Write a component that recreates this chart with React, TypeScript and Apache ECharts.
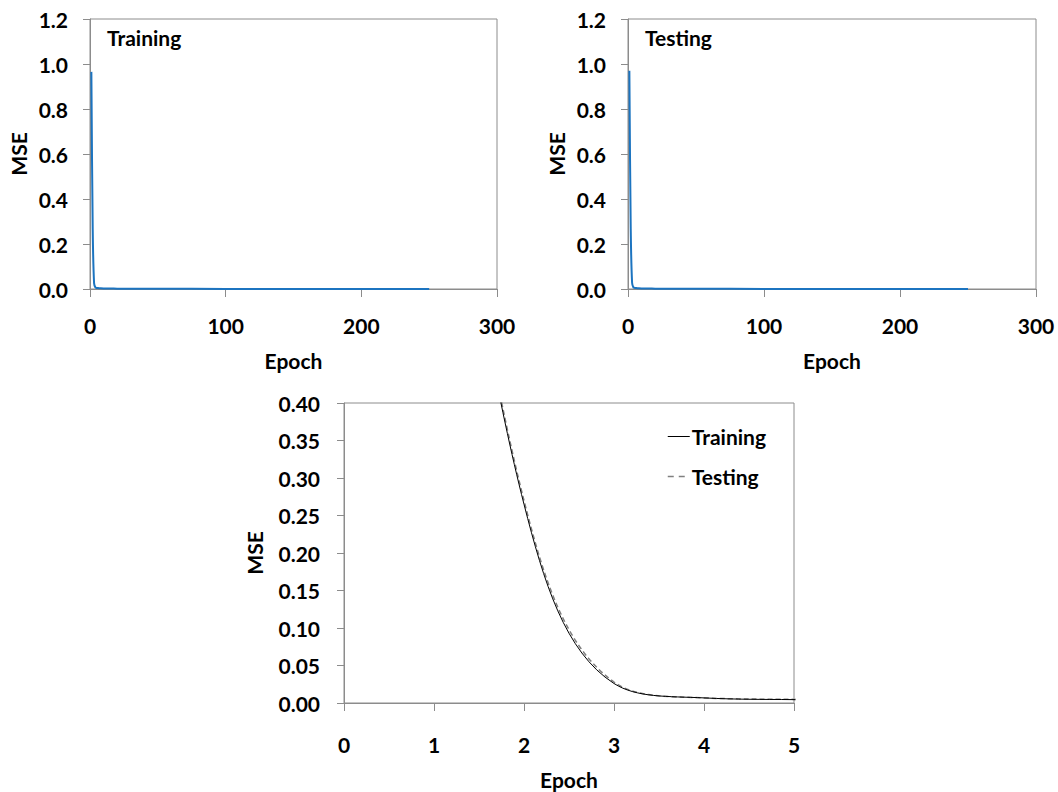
import React, { useEffect, useRef } from "react";
import * as echarts from "echarts";

const epochs = [1, 2, 3, 4, 5, 6, 8, 10, 15, 20, 30, 50, 100, 150, 200, 250];
const trainingMSE = [0.965, 0.265, 0.026, 0.0068, 0.0045, 0.004, 0.003, 0.0025, 0.002, 0.0015, 0.001, 0.0008, 0.0005, 0.0004, 0.0003, 0.0003];
const testingMSE = [0.97, 0.27, 0.028, 0.0068, 0.0048, 0.004, 0.003, 0.0025, 0.002, 0.0015, 0.001, 0.0008, 0.0005, 0.0004, 0.0003, 0.0003];

const topXTicks = { min: 0, max: 300, interval: 100 };
const topYTicks = { min: 0, max: 1.2, interval: 0.2 };
const zoomXTicks = { min: 0, max: 5, interval: 1 };
const zoomYTicks = { min: 0, max: 0.4, interval: 0.05 };

const FONT = "Lato";
const FS = 21;
const BLUE = "#1C74C0";
const GRAY = "#8C8C8C";

function pairs(xs: number[], ys: number[]) {
  return xs.map((x, i) => [x, ys[i]]);
}

const labelStyle = { fontFamily: FONT, fontWeight: "bold" as const, fontSize: FS, color: "#000" };

function xAxis(gridIndex: number, t: any, margin: number, nameGap: number, decimals: number) {
  return {
    type: "value",
    gridIndex,
    min: t.min,
    max: t.max,
    interval: t.interval,
    name: "Epoch",
    nameLocation: "middle",
    nameGap,
    nameMoveOverlap: false,
    nameTextStyle: labelStyle,
    axisLine: { show: true, onZero: false, lineStyle: { color: GRAY, width: 1 } },
    axisTick: { show: true, inside: false, length: 8, lineStyle: { color: GRAY } },
    axisLabel: { ...labelStyle, margin, formatter: (v: number) => v.toFixed(decimals) },
    splitLine: { show: false },
  };
}

function yAxis(gridIndex: number, t: any, margin: number, nameGap: number, decimals: number) {
  return {
    type: "value",
    gridIndex,
    min: t.min,
    max: t.max,
    interval: t.interval,
    name: "MSE",
    nameLocation: "middle",
    nameGap,
    nameMoveOverlap: false,
    nameTextStyle: labelStyle,
    axisLine: { show: true, onZero: false, lineStyle: { color: GRAY, width: 1 } },
    axisTick: { show: true, inside: false, length: 7, lineStyle: { color: GRAY } },
    axisLabel: { ...labelStyle, margin, formatter: (v: number) => v.toFixed(decimals) },
    splitLine: { show: false },
  };
}

export default function App() {
  const ref = useRef<HTMLDivElement>(null);

  useEffect(() => {
    document.body.style.margin = "0";
    const chart = echarts.init(ref.current!, null, { renderer: "svg" });
    const gridStyle = {
      show: true,
      borderColor: GRAY,
      borderWidth: 1,
      backgroundColor: "transparent",
      outerBoundsMode: "none",
      containLabel: false,
    };
    chart.setOption({
      animation: false,
      backgroundColor: "#fff",
      grid: [
        { ...gridStyle, left: 90, top: 19, width: 407, height: 270 },
        { ...gridStyle, left: 628, top: 19, width: 408, height: 270 },
        { ...gridStyle, left: 344, top: 403, width: 450, height: 300 },
      ],
      xAxis: [
        xAxis(0, topXTicks, 26, 61, 0),
        xAxis(1, topXTicks, 26, 61, 0),
        xAxis(2, zoomXTicks, 31, 66, 0),
      ],
      yAxis: [
        yAxis(0, topYTicks, 22, 61, 1),
        yAxis(1, topYTicks, 22, 61, 1),
        yAxis(2, zoomYTicks, 24, 79, 2),
      ],
      legend: {
        data: [
          { name: "Training", lineStyle: { color: "#000", width: 1 } },
          { name: "Testing", lineStyle: { color: "#808080", width: 1.5, type: [6, 5] } },
        ],
        orient: "vertical",
        left: 662,
        top: 421,
        itemWidth: 22,
        itemHeight: 12,
        itemGap: 19,
        itemStyle: { opacity: 0 },
        textStyle: { ...labelStyle, padding: [0, 0, 0, -3] },
        selectedMode: false,
      },
      graphic: [
        { type: "text", x: 107, y: 37, style: { text: "Training", font: `bold ${FS}px ${FONT}`, fill: "#000", verticalAlign: "middle" } },
        { type: "text", x: 645, y: 37, style: { text: "Testing", font: `bold ${FS}px ${FONT}`, fill: "#000", verticalAlign: "middle" } },
      ],
      series: [
        {
          name: "Training (all epochs)",
          type: "line",
          xAxisIndex: 0,
          yAxisIndex: 0,
          data: pairs(epochs, trainingMSE),
          showSymbol: false,
          symbol: "none",
          smooth: 0.3,
          lineStyle: { color: BLUE, width: 2 },
        },
        {
          name: "Testing (all epochs)",
          type: "line",
          xAxisIndex: 1,
          yAxisIndex: 1,
          data: pairs(epochs, testingMSE),
          showSymbol: false,
          symbol: "none",
          smooth: 0.3,
          lineStyle: { color: BLUE, width: 2 },
        },
        {
          name: "Testing",
          type: "line",
          xAxisIndex: 2,
          yAxisIndex: 2,
          data: pairs(epochs, testingMSE),
          symbol: "none",
          smooth: 0.4,
          clip: true,
          itemStyle: { color: "#808080" },
          lineStyle: { color: "#808080", width: 1.5, type: [5, 3] },
        },
        {
          name: "Training",
          type: "line",
          xAxisIndex: 2,
          yAxisIndex: 2,
          data: pairs(epochs, trainingMSE),
          symbol: "none",
          smooth: 0.4,
          clip: true,
          itemStyle: { color: "#000" },
          lineStyle: { color: "#000", width: 1 },
        },
      ],
    });
    return () => chart.dispose();
  }, []);

  return <div ref={ref} style={{ width: 1058, height: 792 }} />;
}
